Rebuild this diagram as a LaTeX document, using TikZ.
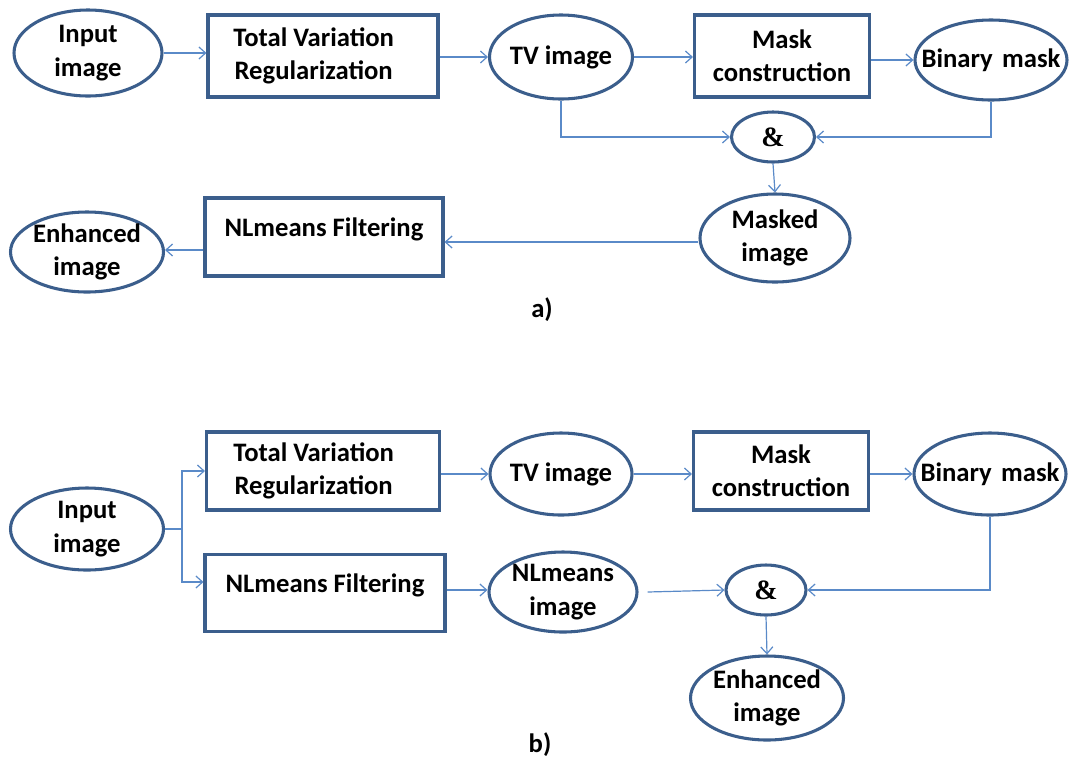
\documentclass[tikz,border=0pt]{standalone}
\usepackage{fontspec}
\setmainfont{Carlito}
\newfontfamily\ampfont{Liberation Serif}
\usetikzlibrary{shapes.geometric,arrows.meta,calc}
\definecolor{edgeblue}{HTML}{3B5E8C}
\definecolor{connblue}{HTML}{5A8AC8}
\begin{document}
\begin{tikzpicture}[x=0.75pt,y=-0.75pt,
  txt/.style={font=\bfseries\fontsize{20}{25}\selectfont, align=center, text=black},
  amp/.style={font=\ampfont\bfseries\fontsize{21}{24}\selectfont, text=black},
  ell/.style 2 args={ellipse, draw=edgeblue, line width=2.3pt, fill=white,
    minimum width=0.75*#1pt, minimum height=0.75*#2pt, inner sep=0pt},
  box/.style 2 args={rectangle, draw=edgeblue, line width=2.3pt, fill=white,
    minimum width=0.75*#1pt, minimum height=0.75*#2pt, inner sep=0pt},
  link/.style={draw=connblue, line width=0.9pt, -{Straight Barb[length=5pt,width=9pt]}},
  plain/.style={draw=connblue, line width=0.9pt},
]
\path[use as bounding box] (0,0) rectangle (1070,765);

% ---------- a) ----------
\node[ell={148}{86}, label={[txt]center:{Input\\image}}] (inA) at (88,53) {};
\node[box={230}{82}, label={[txt,xshift=-7pt]center:{Total Variation\\Regularization}}] (tvrA) at (323,56) {};
\node[ell={143}{84}, label={[txt]center:{TV image}}] (tviA) at (561,57) {};
\node[box={175}{82}, label={[txt]center:{Mask\\construction}}] (mcA) at (782,56) {};
\node[ell={152}{80}, label={[txt]center:{Binary\hspace{0.35em}mask}}] (bmA) at (991,60) {};
\node[ell={83}{50}, label={[amp]center:{\&}}] (andA) at (773,137) {};
\node[ell={150}{88}, label={[txt]center:{Masked\\image}}] (maA) at (775,238) {};
\node[box={238}{78}, label={[txt,yshift=6pt]center:{NLmeans Filtering}}] (nlA) at (324,237) {};
\node[ell={153}{80}, label={[txt]center:{Enhanced\\image}}] (enA) at (87,252) {};
\node[txt] (labA) at (542,310) {a)};

\coordinate (maW) at ($(maA.west)+(0,4)$);
\coordinate (nlW) at ($(nlA.west)+(0,13)$);

\draw[link] (inA.east) -- (inA.east -| tvrA.west);
\draw[link] (tvrA.east |- tviA.west) -- (tviA.west);
\draw[link] (tviA.east) -- (tviA.east -| mcA.west);
\draw[link] (mcA.east |- bmA.west) -- (bmA.west);
\draw[link] (tviA.south) |- (andA.west);
\draw[link] (bmA.south) |- (andA.east);
\draw[link] (andA.south) -- (maA.north);
\draw[link] (maW) -- (maW -| nlA.east);
\draw[link] (nlW) -- (nlW -| enA.east);

% ---------- b) ----------
\node[box={233}{78}, label={[txt,xshift=-7pt]center:{Total Variation\\Regularization}}] (tvrB) at (323,471) {};
\node[ell={142}{82}, label={[txt]center:{TV image}}] (tviB) at (561,474) {};
\node[box={175}{78}, label={[txt]center:{Mask\\construction}}] (mcB) at (781,471) {};
\node[ell={152}{82}, label={[txt]center:{Binary\hspace{0.35em}mask}}] (bmB) at (990,474) {};
\node[ell={153}{82}, label={[txt]center:{Input\\image}}] (inB) at (87,529) {};
\node[box={240}{77}, label={[txt,yshift=6pt]center:{NLmeans Filtering}}] (nlB) at (325,593) {};
\node[ell={148}{80}, label={[txt]center:{NLmeans\\image}}] (nliB) at (563,592) {};
\node[ell={80}{50}, label={[amp]center:{\&}}] (andB) at (766,590) {};
\node[ell={153}{84}, label={[txt]center:{Enhanced\\image}}] (enB) at (767,698) {};
\node[txt] (labB) at (540,745) {b)};

\coordinate (br) at (182,529);
\coordinate (nlBW) at ($(nlB.west)+(0,-11)$);
\coordinate (nlBE) at ($(nlB.east)+(0,-3)$);
\coordinate (nliBE) at ($(nliB.east)+(9,0)$);
\draw[plain] (inB.east) -- (br);
\draw[link] (br) |- (tvrB.west);
\draw[link] (br) |- (nlBW);
\draw[link] (tvrB.east |- tviB.west) -- (tviB.west);
\draw[link] (tviB.east) -- (tviB.east -| mcB.west);
\draw[link] (mcB.east |- bmB.west) -- (bmB.west);
\draw[link] (nlBE) -- (nlBE -| nliB.west);
\draw[link] (nliBE) -- (andB.west);
\draw[link] (bmB.south) |- (andB.east);
\draw[link] (andB.south) -- (enB.north);
\end{tikzpicture}
\end{document}
